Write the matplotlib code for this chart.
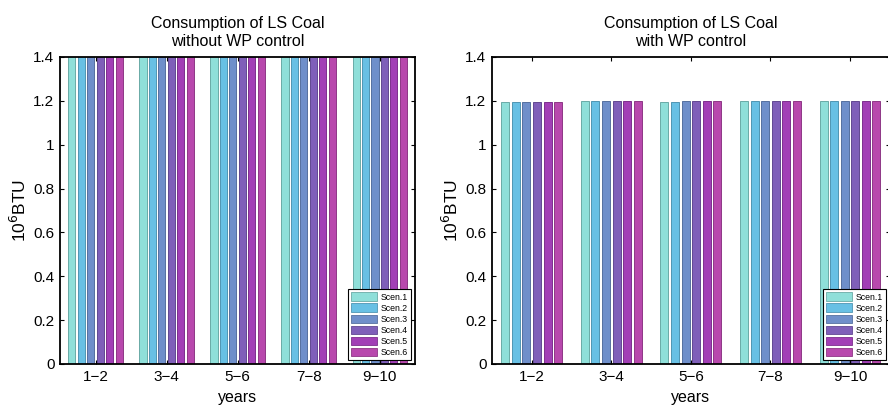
import matplotlib
matplotlib.use("Agg")
import matplotlib.pyplot as plt
import numpy as np
from matplotlib.patches import Patch

plt.rcParams['font.family'] = ['Liberation Sans', 'DejaVu Sans']

periods = ['1\u22122', '3\u22124', '5\u22126', '7\u22128', '9\u221210']
scenarios = ['Scen.1', 'Scen.2', 'Scen.3', 'Scen.4', 'Scen.5', 'Scen.6']

# consumption without water-pollution control (bars run past the 1.4 limit)
without_wp = [
    [1.45, 1.45, 1.45, 1.45, 1.45],
    [1.45, 1.45, 1.45, 1.45, 1.45],
    [1.45, 1.45, 1.45, 1.45, 1.45],
    [1.45, 1.45, 1.45, 1.45, 1.45],
    [1.45, 1.45, 1.45, 1.45, 1.45],
    [1.45, 1.45, 1.45, 1.45, 1.45],
]
# consumption with water-pollution control
with_wp = [
    [1.193, 1.198, 1.193, 1.198, 1.198],
    [1.193, 1.198, 1.193, 1.198, 1.198],
    [1.193, 1.198, 1.198, 1.198, 1.198],
    [1.193, 1.198, 1.198, 1.198, 1.198],
    [1.193, 1.198, 1.198, 1.198, 1.198],
    [1.193, 1.198, 1.198, 1.198, 1.198],
]

face_colors = ['#8fdfd9', '#68c0e4', '#6f8fca', '#7f5fb9', '#a23fb6', '#b848ad']
edge_colors = ['#6aaaa6', '#4f95b3', '#56709f', '#624891', '#7d2f8d', '#8e3786']

fig = plt.figure(figsize=(8.88, 4.11), dpi=100)
ax_l = fig.add_axes([0.0676, 0.1144, 0.400, 0.747])
ax_r = fig.add_axes([0.554, 0.1144, 0.448, 0.747])

def draw(ax, data, title):
    x = np.arange(1, len(periods) + 1)
    n = len(scenarios)
    step = 0.133
    width = 0.1
    for i, vals in enumerate(data):
        offs = (i - (n - 1) / 2) * step
        ax.bar(x + offs, vals, width=width, color=face_colors[i],
               edgecolor=edge_colors[i], linewidth=0.7, zorder=2)
    ax.set_xlim(0.5, 5.5)
    ax.set_ylim(0, 1.4)
    ax.set_xticks(x)
    ax.set_xticklabels(periods, fontsize=11)
    yt = [0, 0.2, 0.4, 0.6, 0.8, 1.0, 1.2, 1.4]
    ax.set_yticks(yt)
    ax.set_yticklabels(['0', '0.2', '0.4', '0.6', '0.8', '1', '1.2', '1.4'], fontsize=11)
    ax.tick_params(direction='in', top=True, right=True, length=3, width=0.8, pad=4)
    for s in ax.spines.values():
        s.set_linewidth(1.3)
        s.set_zorder(5)
    ax.set_title(title, fontsize=11.5, pad=8, linespacing=1.25)
    ax.set_xlabel('years', fontsize=11.5, labelpad=5)
    ax.set_ylabel('10$^{6}$BTU', fontsize=12.5, labelpad=3)
    handles = [Patch(facecolor=face_colors[i], edgecolor=edge_colors[i], linewidth=0.6,
                     label=scenarios[i]) for i in range(n)]
    leg = ax.legend(handles=handles, loc='lower right', fontsize=6.3, frameon=True,
                    fancybox=False, edgecolor='black', framealpha=1,
                    handlelength=3.0, handleheight=1.15, handletextpad=0.4,
                    labelspacing=0.2, borderpad=0.35, borderaxespad=0.45)
    leg.get_frame().set_linewidth(0.8)
    leg.set_zorder(6)

draw(ax_l, without_wp, 'Consumption of LS Coal\nwithout WP control')
draw(ax_r, with_wp, 'Consumption of LS Coal\nwith WP control')

fig.savefig('out.png', dpi=100)
